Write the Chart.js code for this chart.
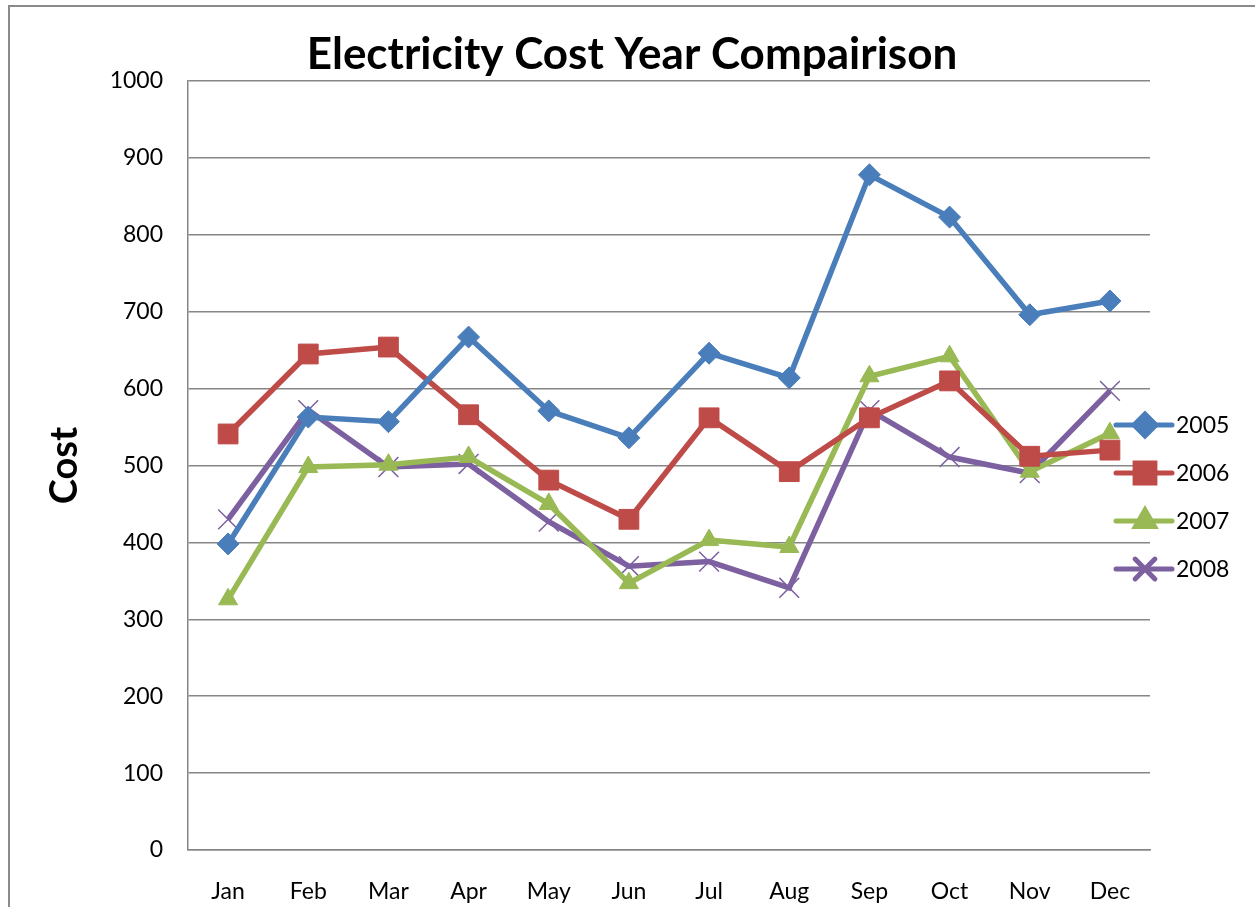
<!DOCTYPE html>
<html>
<head>
<meta charset="utf-8">
<script src="https://cdn.jsdelivr.net/npm/chart.js@4/dist/chart.umd.min.js"></script>
<style>
  body { margin: 0; background: #fff; }
  canvas { display: block; }
</style>
</head>
<body>
<canvas id="myChart" width="1255" height="907"></canvas>
<script>
var months = ['Jan', 'Feb', 'Mar', 'Apr', 'May', 'Jun', 'Jul', 'Aug', 'Sep', 'Oct', 'Nov', 'Dec'];
var seriesNames = ['2005', '2006', '2007', '2008'];
var cost2005 = [398, 563, 557, 667, 571, 536, 646, 614, 878, 823, 696, 714];
var cost2006 = [541, 645, 654, 566, 481, 430, 562, 492, 562, 610, 512, 520];
var cost2007 = [326, 498, 501, 511, 450, 347, 403, 394, 616, 642, 492, 542];
var cost2008 = [430, 572, 498, 502, 427, 369, 375, 341, 572, 511, 490, 597];
var chartTitle = 'Electricity Cost Year Compairison';

var FONT = 'Lato, "Open Sans", sans-serif';
var gridGray = '#868686';

// outer frame + white bg + title (excel centers title on the whole object)
var framePlugin = {
    id: 'frame',
    beforeDraw: function (chart) {
        var ctx = chart.ctx;
        ctx.save();
        ctx.fillStyle = '#fff';
        ctx.fillRect(0, 0, chart.width, chart.height);
        ctx.strokeStyle = '#8a8a8a';
        ctx.lineWidth = 2;
        ctx.strokeRect(9, 6, 1400, 1100);
        ctx.fillStyle = '#000';
        ctx.font = 'bold 44px ' + FONT;
        ctx.textAlign = 'center';
        ctx.textBaseline = 'middle';
        ctx.fillText(chartTitle, 632, 55);
        ctx.restore();
    }
};

// legend like excel: line with marker, then text
var sideLegend = {
    id: 'sideLegend',
    afterDraw: function (chart) {
        var ctx = chart.ctx;
        ctx.save();
        chart.data.datasets.forEach(function (ds, i) {
            var y = 425 + i * 48;
            ctx.strokeStyle = ds.borderColor;
            ctx.lineWidth = 5;
            ctx.lineCap = 'round';
            ctx.beginPath();
            ctx.moveTo(1116, y);
            ctx.lineTo(1172, y);
            ctx.stroke();
            ctx.fillStyle = ds.pointBackgroundColor;
            ctx.strokeStyle = ds.pointBorderColor;
            Chart.helpers.drawPoint(ctx, {
                pointStyle: ds.pointStyle,
                radius: ds.pointRadius,
                borderWidth: ds.pointBorderWidth,
                rotation: 0
            }, 1145, y);
            ctx.fillStyle = '#000';
            ctx.font = '23px ' + FONT;
            ctx.textAlign = 'left';
            ctx.textBaseline = 'middle';
            ctx.fillText(ds.label, 1176, y + 1);
        });
        ctx.restore();
    }
};

function series(label, values, color, style, radius, bw) {
    return {
        label: label,
        data: values,
        borderColor: color,
        backgroundColor: color,
        borderWidth: 5.5,
        pointStyle: style,
        pointRadius: radius,
        pointHoverRadius: radius,
        pointBackgroundColor: color,
        pointBorderColor: color,
        pointBorderWidth: bw,
        tension: 0
    };
}

var ctx = document.getElementById('myChart').getContext('2d');
var myChart = new Chart(ctx, {
    type: 'line',
    data: {
        labels: months,
        datasets: [
            series(seriesNames[0], cost2005, '#4A7EBB', 'rectRot', 11, 1),
            series(seriesNames[1], cost2006, '#BE4B48', 'rect', 14, 1),
            series(seriesNames[2], cost2007, '#98B954', 'triangle', 11, 1),
            series(seriesNames[3], cost2008, '#7D60A0', 'crossRot', 14, 1.5)
        ]
    },
    options: {
        responsive: false,
        animation: false,
        clip: false,
        layout: { padding: { left: 10, right: 105, top: 81, bottom: 0 } },
        plugins: {
            legend: { display: false },
            tooltip: { enabled: false },
            title: { display: false }
        },
        scales: {
            x: {
                offset: true,
                grid: { display: false, drawTicks: false },
                border: { display: true, color: gridGray, width: 1.5 },
                ticks: { color: '#000', padding: 28, font: { family: FONT, size: 23 } },
                afterFit: function (scale) { scale.height = 57; }
            },
            y: {
                min: 0,
                max: 1000,
                ticks: {
                    stepSize: 100,
                    color: '#000',
                    padding: 25,
                    font: { family: FONT, size: 23 },
                    callback: function (v) { return String(v); }
                },
                grid: { color: gridGray, lineWidth: 1.5, drawTicks: false },
                border: { display: true, color: gridGray, width: 1.5 },
                title: {
                    display: true,
                    text: 'Cost',
                    color: '#000',
                    font: { family: FONT, size: 38, weight: 'bold', lineHeight: 1.2 },
                    padding: { top: 32, bottom: 0 }
                },
                afterFit: function (scale) { scale.width = 178; }
            }
        }
    },
    plugins: [framePlugin, sideLegend]
});
</script>
</body>
</html>
